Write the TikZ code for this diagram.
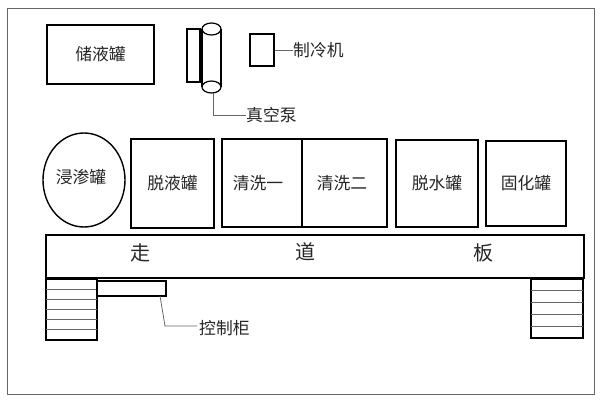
\documentclass[tikz,border=0pt]{standalone}
\usepackage{fontspec}
\setmainfont{Noto Sans CJK SC}
\usetikzlibrary{shapes.geometric}
\begin{document}
\begin{tikzpicture}[x=1pt,y=-1pt,
  box/.style={draw=black,line width=1.4pt,fill=white,inner sep=0pt,font=\fontsize{16.8}{16.8}\selectfont,text=black!85},
  txt/.style={font=\fontsize{16.8}{16.8}\selectfont,text=black!85},
  thin/.style={draw=black!60,line width=0.8pt},
  lbl/.style={anchor=west,inner sep=0pt,font=\fontsize{16.8}{16.8}\selectfont,text=black!85},
  big/.style={inner sep=0pt,font=\fontsize{20}{20}\selectfont,text=black!85}]
\useasboundingbox (0,0) rectangle (600,405);
\fill[white] (0,0) rectangle (600,405);
\draw[draw=black!60,line width=1pt] (7,8) rectangle (594,394);
% top row
\node[box,minimum width=107pt,minimum height=59pt] (store) at (100.5,54.5) {储液罐};
\node[box,line width=1.2pt,minimum width=13pt,minimum height=53pt] (pside) at (193.5,55.5) {};
\draw[line width=1.2pt] (202,29) -- (202,87) (221,29) -- (221,87);
\draw[line width=1.2pt] (211.5,29) ellipse [x radius=9.5,y radius=6];
\draw[line width=1.2pt] (211.5,87) ellipse [x radius=9.5,y radius=6];
\draw[line width=1pt] (200,40) -- (202,40) (200,58) -- (202,58);
\coordinate (pbot) at (213,93);
\node[lbl] (pumpl) at (246,115) {真空泵};
\draw[thin] (pbot) |- (pumpl.west);
\node[box,line width=1.2pt,minimum width=24pt,minimum height=32pt] (chill) at (262,50) {};
\node[lbl] (chilll) at (293,50) {制冷机};
\draw[thin] (chill.east) -- (chilll.west);
% tanks row
\node[box,ellipse,minimum width=82pt,minimum height=94pt] (soak) at (84,180) {};
\node[txt] at (81,177) {浸渗罐};
\node[box,minimum width=83pt,minimum height=89pt] (drain) at (172.5,183.5) {脱液罐};
\node[box,minimum width=80pt,minimum height=88pt] (wash1) at (262,183) {};
\node[txt] at (258,183) {清洗一};
\node[box,minimum width=85pt,minimum height=88pt] (wash2) at (344.5,183) {};
\node[txt] at (342,183) {清洗二};
\node[box,minimum width=82pt,minimum height=87pt] (dewater) at (437,183.5) {脱水罐};
\node[box,minimum width=80pt,minimum height=85pt] (cure) at (526,183.5) {固化罐};
% walkway
\node[box,minimum width=538pt,minimum height=43pt] (board) at (315,256.5) {};
\node[big] (w1) at (140,253) {走};
\node[big] (w2) at (305.5,252) {道};
\node[big] (w3) at (483,253) {板};
% left stairs
\node[box,minimum width=51pt,minimum height=61pt] (lstair) at (71.5,309.5) {};
\foreach \y in {289.2,299.3,309.5,319.7,329.8} \draw[thin] (46,\y) -- (97,\y);
\draw[line width=1.4pt] (lstair.north west) rectangle (lstair.south east);
% cabinet
\node[box,line width=1.2pt,minimum width=69pt,minimum height=15pt] (cab) at (131.5,288.5) {};
\coordinate (cabl) at (160,296);
\node[lbl] (cabt) at (199,328) {控制柜};
\draw[thin] (cabl) -- (165,326) -- (197,326);
% right stairs
\node[box,minimum width=52pt,minimum height=59pt] (rstair) at (557,308.5) {};
\foreach \y in {290.8,302.6,314.4,326.2} \draw[thin] (531,\y) -- (583,\y);
\draw[line width=1.4pt] (rstair.north west) rectangle (rstair.south east);
\end{tikzpicture}
\end{document}
